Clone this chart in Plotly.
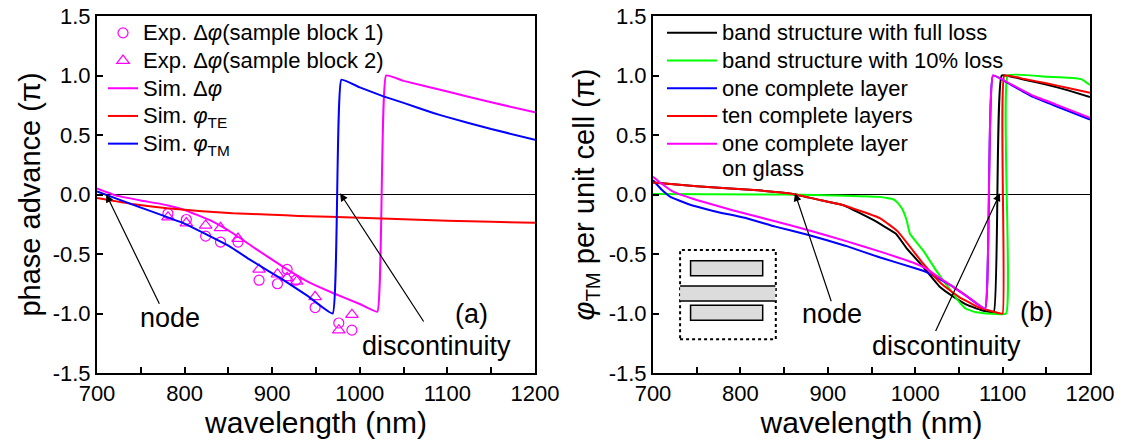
import plotly.graph_objects as go

# ---------------- Panel (a) data ----------------
exp1_wl = [781, 802, 824, 841, 861, 885, 906, 917, 927, 949, 976, 991]
exp1_val = [-0.16, -0.21, -0.35, -0.40, -0.40, -0.72, -0.75, -0.63, -0.72, -0.95, -1.08, -1.14]
exp2_wl = [781, 802, 824, 841, 861, 885, 906, 917, 928, 949, 976, 991]
exp2_val = [-0.19, -0.24, -0.26, -0.28, -0.37, -0.63, -0.67, -0.70, -0.73, -0.86, -1.14, -1.01]

sim_dphi_wl = [700, 720, 750, 780, 800, 830, 856, 880, 913, 940, 970, 1000, 1020, 1030, 1050, 1100, 1150, 1200]
sim_dphi_val = [0.05, -0.005, -0.05, -0.09, -0.13, -0.22, -0.33, -0.45, -0.61, -0.73, -0.83, -0.92, -0.985, 1.0, 0.955, 0.865, 0.775, 0.69]

sim_te_wl = [700, 740, 780, 820, 855, 900, 930, 1000, 1050, 1100, 1150, 1200]
sim_te_val = [-0.03, -0.08, -0.115, -0.14, -0.158, -0.17, -0.18, -0.195, -0.208, -0.22, -0.23, -0.237]

sim_tm_wl = [700, 750, 800, 850, 875, 913, 940, 969, 979, 1000, 1027, 1050, 1084, 1100, 1150, 1200]
sim_tm_val = [0.025, -0.11, -0.245, -0.43, -0.55, -0.72, -0.85, -1.0, 0.965, 0.9, 0.825, 0.77, 0.685, 0.65, 0.55, 0.46]

# ---------------- Panel (b) data ----------------
full_wl = [700, 750, 784, 820, 860, 891, 918, 952, 978, 990, 1009, 1028, 1044, 1060, 1075, 1090, 1099, 1125, 1150, 1175, 1200]
full_val = [0.10, 0.07, 0.052, 0.035, 0.005, -0.046, -0.09, -0.214, -0.33, -0.45, -0.607, -0.775, -0.86, -0.93, -0.97, -0.985, 1.0, 0.965, 0.925, 0.875, 0.82]

loss10_wl = [700, 850, 920, 960, 975, 980, 985, 990, 994, 1010, 1025, 1040, 1050, 1058, 1070, 1104, 1106, 1150, 1180, 1190, 1200]
loss10_val = [0.005, 0.0, -0.01, -0.02, -0.04, -0.07, -0.12, -0.21, -0.33, -0.48, -0.65, -0.80, -0.90, -0.96, -0.99, -1.0, 1.0, 0.99, 0.98, 0.97, 0.92]

one_wl = [700, 710, 720, 740, 770, 807, 840, 878, 920, 960, 1000, 1012, 1040, 1060, 1080, 1089, 1110, 1135, 1160, 1200]
one_val = [0.12, 0.04, -0.02, -0.08, -0.14, -0.20, -0.27, -0.34, -0.43, -0.53, -0.62, -0.65, -0.76, -0.86, -0.96, 1.0, 0.92, 0.82, 0.745, 0.63]

ten_wl = [700, 750, 784, 820, 860, 891, 918, 960, 980, 1009, 1030, 1050, 1070, 1090, 1100, 1102, 1125, 1150, 1175, 1200]
ten_val = [0.10, 0.07, 0.052, 0.035, 0.005, -0.046, -0.09, -0.20, -0.31, -0.58, -0.75, -0.86, -0.94, -0.985, -1.0, 1.0, 0.97, 0.935, 0.895, 0.855]

glass_wl = [700, 710, 723, 750, 790, 834, 878, 920, 960, 1000, 1012, 1040, 1060, 1080, 1089, 1110, 1135, 1160, 1200]
glass_val = [0.15, 0.09, 0.024, -0.046, -0.13, -0.214, -0.30, -0.39, -0.48, -0.58, -0.62, -0.76, -0.86, -0.957, 1.0, 0.925, 0.83, 0.76, 0.645]

x_ticks = [700, 800, 900, 1000, 1100, 1200]
y_ticks = [-1.5, -1.0, -0.5, 0.0, 0.5, 1.0, 1.5]
y_ticklabels = ["-1.5", "-1.0", "-0.5", "0.0", "0.5", "1.0", "1.5"]

FONT = "Arial, Liberation Sans, sans-serif"
MAG, RED, BLUE, GREEN, BLACK = "#ff00ff", "#ff0000", "#0000ff", "#00ff00", "#000000"
LW = 2


def big(t):
    return '<span style="font-size:22px">' + t + '</span>'


fig = go.Figure()

# Panel (a)
fig.add_trace(go.Scatter(x=exp1_wl, y=exp1_val, mode="markers", name=big("Exp. Δ<i>φ</i>(sample block 1)"),
                         marker=dict(symbol="circle-open", size=10, color=MAG, line=dict(width=1.2)),
                         xaxis="x", yaxis="y", legend="legend"))
fig.add_trace(go.Scatter(x=exp2_wl, y=exp2_val, mode="markers", name=big("Exp. Δ<i>φ</i>(sample block 2)"),
                         marker=dict(symbol="triangle-up-open", size=11, color=MAG, line=dict(width=1.2)),
                         xaxis="x", yaxis="y", legend="legend"))
fig.add_trace(go.Scatter(x=sim_dphi_wl, y=sim_dphi_val, mode="lines", name=big("Sim. Δ<i>φ</i>"),
                         line=dict(color=MAG, width=LW, shape="spline", smoothing=0.3),
                         xaxis="x", yaxis="y", legend="legend"))
fig.add_trace(go.Scatter(x=sim_te_wl, y=sim_te_val, mode="lines", name=big("Sim. <i>φ</i><sub>TE</sub>"),
                         line=dict(color=RED, width=LW, shape="spline", smoothing=0.3),
                         xaxis="x", yaxis="y", legend="legend"))
fig.add_trace(go.Scatter(x=sim_tm_wl, y=sim_tm_val, mode="lines", name=big("Sim. <i>φ</i><sub>TM</sub>"),
                         line=dict(color=BLUE, width=LW, shape="spline", smoothing=0.3),
                         xaxis="x", yaxis="y", legend="legend"))

# Panel (b)
fig.add_trace(go.Scatter(x=full_wl, y=full_val, mode="lines", name=big("band structure with full loss"),
                         line=dict(color=BLACK, width=LW, shape="spline", smoothing=0.3),
                         xaxis="x2", yaxis="y2", legend="legend2"))
fig.add_trace(go.Scatter(x=loss10_wl, y=loss10_val, mode="lines", name=big("band structure with 10% loss"),
                         line=dict(color=GREEN, width=LW, shape="spline", smoothing=0.3),
                         xaxis="x2", yaxis="y2", legend="legend2"))
fig.add_trace(go.Scatter(x=one_wl, y=one_val, mode="lines", name=big("one complete layer"),
                         line=dict(color=BLUE, width=LW, shape="spline", smoothing=0.3),
                         xaxis="x2", yaxis="y2", legend="legend2"))
fig.add_trace(go.Scatter(x=ten_wl, y=ten_val, mode="lines", name=big("ten complete layers"),
                         line=dict(color=RED, width=LW, shape="spline", smoothing=0.3),
                         xaxis="x2", yaxis="y2", legend="legend2"))
fig.add_trace(go.Scatter(x=glass_wl, y=glass_val, mode="lines",
                         name=big("one complete layer") + "<br>" + big("on glass"),
                         line=dict(color=MAG, width=LW, shape="spline", smoothing=0.3),
                         xaxis="x2", yaxis="y2", legend="legend2"))

W, H = 1135, 446


def px_x(p):
    return p / W


def px_y(p):
    return (H - p) / H


dom_y = [px_y(373), px_y(16)]

axis_common = dict(
    range=[700, 1200], tickvals=x_ticks, ticks="inside", ticklen=6, tickwidth=1.5,
    tickcolor=BLACK, showline=True, linecolor=BLACK, linewidth=2, mirror=True,
    showgrid=False, zeroline=False, automargin=False,
    tickfont=dict(family=FONT, size=22, color=BLACK),
    minor=dict(dtick=50, tick0=700, ticks="inside", ticklen=6, tickwidth=1.5, tickcolor=BLACK),
    title=dict(text="wavelength (nm)", font=dict(family=FONT, size=30, color=BLACK), standoff=2),
)
yaxis_common = dict(
    range=[-1.5, 1.5], tickvals=y_ticks, ticktext=y_ticklabels, ticks="inside", ticklen=6, tickwidth=1.5,
    tickcolor=BLACK, showline=True, linecolor=BLACK, linewidth=2, mirror=True,
    showgrid=False, zeroline=True, zerolinecolor=BLACK, zerolinewidth=1.2, automargin=False,
    tickfont=dict(family=FONT, size=22, color=BLACK),
)

LEG_FONT = 19
fig.update_layout(
    width=W, height=H, margin=dict(l=0, r=0, t=0, b=0, autoexpand=False),
    paper_bgcolor="white", plot_bgcolor="white",
    font=dict(family=FONT, color=BLACK),
    xaxis=dict(axis_common, domain=[px_x(97), px_x(535)], anchor="y"),
    yaxis=dict(yaxis_common, domain=dom_y, anchor="x",
               title=dict(text="phase advance (π)", font=dict(family=FONT, size=29, color=BLACK), standoff=4)),
    xaxis2=dict(axis_common, domain=[px_x(653), px_x(1090)], anchor="y2"),
    yaxis2=dict(yaxis_common, domain=dom_y, anchor="x2",
                title=dict(text="<i>φ</i><sub>TM</sub> per unit cell (π)", font=dict(family=FONT, size=29, color=BLACK), standoff=6)),
    legend=dict(x=px_x(103), y=px_y(14), xanchor="left", yanchor="top", bgcolor="rgba(0,0,0,0)",
                font=dict(family=FONT, size=LEG_FONT, color=BLACK), tracegroupgap=0, valign="top"),
    legend2=dict(x=px_x(662), y=px_y(14), xanchor="left", yanchor="top", bgcolor="rgba(0,0,0,0)",
                 font=dict(family=FONT, size=LEG_FONT, color=BLACK), tracegroupgap=0, valign="top", itemwidth=50),
    showlegend=True,
)

# Annotations: texts
ann_font = dict(family=FONT, size=27, color=BLACK)
texts = [
    ("x", "y", 783, -1.04, "node"),
    ("x", "y", 1088, -1.27, "discontinuity"),
    ("x", "y", 1127, -1.0, "(a)"),
    ("x2", "y2", 905, -1.0, "node"),
    ("x2", "y2", 1036, -1.27, "discontinuity"),
    ("x2", "y2", 1139, -0.99, "(b)"),
]
for xr, yr, xv, yv, t in texts:
    fig.add_annotation(x=xv, y=yv, xref=xr, yref=yr, text=t, showarrow=False, font=ann_font)

arrows = [
    ("x", "y", 710.5, 0.0, 772, -0.93),
    ("x", "y", 977.5, 0.01, 1074, -1.08),
    ("x2", "y2", 862.5, 0.01, 904.5, -0.91),
    ("x2", "y2", 1097, 0.01, 1022.6, -1.16),
]
for xr, yr, xv, yv, axv, ayv in arrows:
    fig.add_annotation(x=xv, y=yv, xref=xr, yref=yr, ax=axv, ay=ayv, axref=xr, ayref=yr,
                       text="", showarrow=True, arrowhead=2, arrowsize=1.3, arrowwidth=1.2,
                       arrowcolor=BLACK)

# Inset schematic in panel (b)
GRAY = "#dcdcdc"
fig.add_shape(type="rect", xref="x2", yref="y2", x0=731, x1=840.5, y0=-1.217, y1=-0.466,
              line=dict(color=BLACK, width=2, dash="dot"), fillcolor="rgba(0,0,0,0)")
fig.add_shape(type="rect", xref="x2", yref="y2", x0=743, x1=825.5, y0=-0.682, y1=-0.556,
              line=dict(color=BLACK, width=1.5), fillcolor=GRAY)
fig.add_shape(type="rect", xref="x2", yref="y2", x0=743, x1=825.5, y0=-1.057, y1=-0.931,
              line=dict(color=BLACK, width=1.5), fillcolor=GRAY)
fig.add_shape(type="rect", xref="x2", yref="y2", x0=731, x1=840, y0=-0.895, y1=-0.769,
              line=dict(width=0), fillcolor=GRAY)
fig.add_shape(type="line", xref="x2", yref="y2", x0=731, x1=840, y0=-0.769, y1=-0.769,
              line=dict(color=BLACK, width=1.5))
fig.add_shape(type="line", xref="x2", yref="y2", x0=731, x1=840, y0=-0.895, y1=-0.895,
              line=dict(color=BLACK, width=1.5))

fig.write_html("out.html")
